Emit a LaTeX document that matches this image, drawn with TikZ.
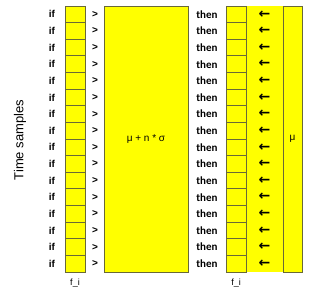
\documentclass[tikz,border=0pt]{standalone}
\usepackage{fontspec}
\usetikzlibrary{positioning}
\setmainfont{Liberation Sans}
\newfontfamily\calfont{Carlito}
\newfontfamily\arrfont{DejaVu Sans}
\definecolor{cellyellow}{RGB}{255,255,0}
\definecolor{cellline}{RGB}{105,105,55}
\begin{document}
\begin{tikzpicture}[x=1pt, y=-1pt]
			\tikzset{
				cell/.style={draw=cellline, fill=cellyellow, line width=0.8pt, inner sep=0,
						minimum width=20pt, minimum height=16.625pt},
				bigbox/.style={draw=cellline, fill=cellyellow, line width=0.8pt, inner sep=0,
						minimum height=266pt},
				iflabel/.style={font=\bfseries\fontsize{10}{10}\selectfont},
				thenlabel/.style={font=\calfont\bfseries\fontsize{11}{11}\selectfont},
				arrlabel/.style={font=\arrfont\bfseries\fontsize{14}{14}\selectfont},
				small/.style={font=\fontsize{9}{9}\selectfont},
			}
			\useasboundingbox (0,0) rectangle (310,291);
			% threshold, strip and mean
			\node[bigbox, minimum width=84pt] (thr) at (146,139) {};
			\node[fill=cellyellow, inner sep=0, minimum width=37pt, minimum height=266pt] (strip) at (264.5,139) {};
			\node[bigbox, minimum width=19pt] (mu) at (292.5,139) {};
			\node[small, font=\fontsize{10}{10}\selectfont] (thrlabel) at (thr.center) {μ + n * σ};
			\node[small, font=\fontsize{10}{10}\selectfont] (mulabel) at (mu.center) {μ};
			\foreach \k in {1,...,16}
				{
					\pgfmathsetmacro{\yy}{6+(\k-0.5)*16.625}
					\node[iflabel] (if\k) at (52,\yy) {if};
					\node[cell] (cl\k) at (75,\yy) {};
					\node[iflabel] (gt\k) at (95,\yy) {>};
					\node[thenlabel] (then\k) at (207,\yy) {then};
					\node[cell] (cr\k) at (236,\yy) {};
					\node[arrlabel] (ar\k) at (264.5,\yy) {←};
				}
			\node[small, below=3pt of cl16] (fil) {f\_i};
			\node[small, below=3pt of cr16] (fir) {f\_i};
			\node[rotate=90, font=\fontsize{13}{13}\selectfont] (time) at (20,140) {Time samples};
		\end{tikzpicture}
\end{document}
